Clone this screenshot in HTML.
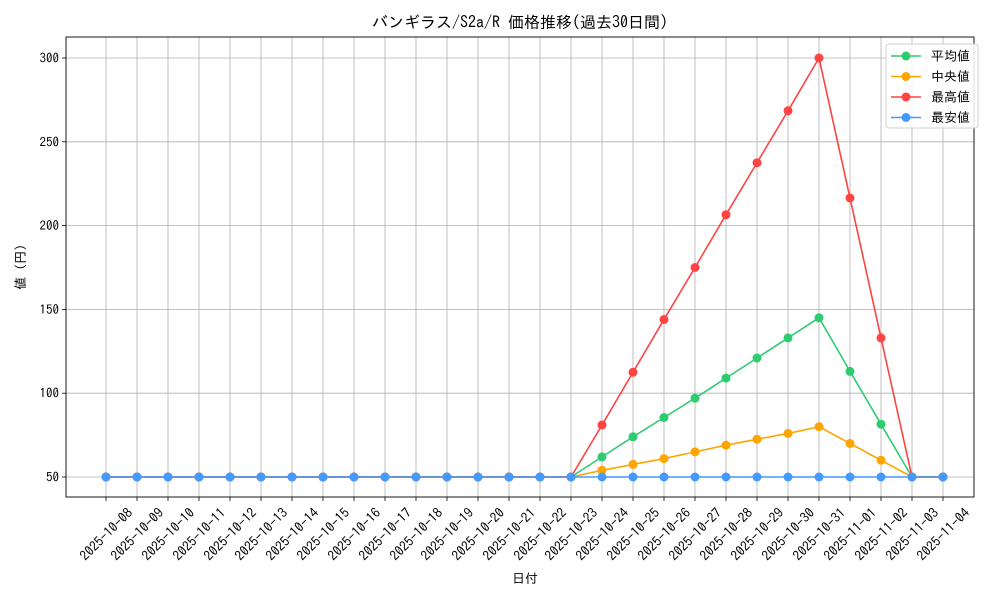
<!DOCTYPE html>
<html><head><meta charset="utf-8"><style>
body{margin:0;background:#fff}
svg{display:block;font-family:"IPAGothic","Noto Sans CJK JP",sans-serif}
</style></head><body>
<svg id="s" width="1000" height="600" xmlns="http://www.w3.org/2000/svg">
<rect width="1000" height="600" fill="#fff"/>
<g id="g"></g>
</svg>
<script>
const ns="http://www.w3.org/2000/svg",g=document.getElementById('g');
function el(t,a,txt){const e=document.createElementNS(ns,t);for(const k in a)e.setAttribute(k,a[k]);if(txt!=null)e.textContent=txt;g.appendChild(e);return e;}
const X=i=>106+i*31.0, Y=v=>477-(v-50)*1.676;
const dates=[];let d=new Date(Date.UTC(2025,9,8));
for(let i=0;i<28;i++){dates.push(d.toISOString().slice(0,10));d=new Date(d.getTime()+864e5);}
for(let i=0;i<28;i++)el('line',{x1:X(i),x2:X(i),y1:37,y2:497,stroke:'#b0b0b0','stroke-width':0.8});
for(let v=50;v<=300;v+=50){el('line',{x1:66,x2:974,y1:Y(v),y2:Y(v),stroke:'#b0b0b0','stroke-width':0.8});
 el('line',{x1:62,x2:66,y1:Y(v),y2:Y(v),stroke:'#000','stroke-width':0.8});
 el('text',{x:59,y:Y(v)+4.5,'text-anchor':'end','font-size':13},v);}
for(let i=0;i<28;i++){el('line',{x1:X(i),x2:X(i),y1:497,y2:501,stroke:'#000','stroke-width':0.8});
 el('text',{x:X(i),y:534,'text-anchor':'middle','dominant-baseline':'central','font-size':13.5,transform:`rotate(-45 ${X(i)} 534)`},dates[i]);}
const flat=n=>Array(n).fill(50);
const S=[
 ['#2ecc71',flat(16).concat([62,74,85.5,97,109,121,133,145,113,81.5,50,50])],
 ['#ffa500',flat(16).concat([54,57.5,61,65,69,72.5,76,80,70,60,50,50])],
 ['#ff4444',flat(16).concat([81,112.5,144,175,206.5,237.5,268.5,300,216.5,133,50,50])],
 ['#4499ff',flat(28)]];
for(const [c,vals] of S){el('polyline',{points:vals.map((v,i)=>X(i)+','+Y(v)).join(' '),fill:'none',stroke:c,'stroke-width':1.6});
 vals.forEach((v,i)=>el('circle',{cx:X(i),cy:Y(v),r:4.5,fill:c}));}
el('rect',{x:66,y:37,width:908,height:460,fill:'none',stroke:'#000','stroke-width':0.9});
el('text',{x:520,y:28,'text-anchor':'middle','font-size':16},'バンギラス/S2a/R 価格推移(過去30日間)');
el('text',{x:525,y:583,'text-anchor':'middle','font-size':13},'日付');
el('text',{x:25,y:267,'text-anchor':'middle','font-size':13,transform:'rotate(-90 25 267)'},'値 (円)');
el('rect',{x:886,y:44,width:92,height:84,rx:3,fill:'#fff','fill-opacity':0.85,stroke:'#d0d0d0'});
const names=['平均値','中央値','最高値','最安値'];
S.forEach(([c],k)=>{const y=56+k*20.5;
 el('line',{x1:891,x2:921,y1:y,y2:y,stroke:c,'stroke-width':1.6});
 el('circle',{cx:906,cy:y,r:4.5,fill:c});
 el('text',{x:931,y:y+4.5,'font-size':13},names[k]);});
</script>
</body></html>
